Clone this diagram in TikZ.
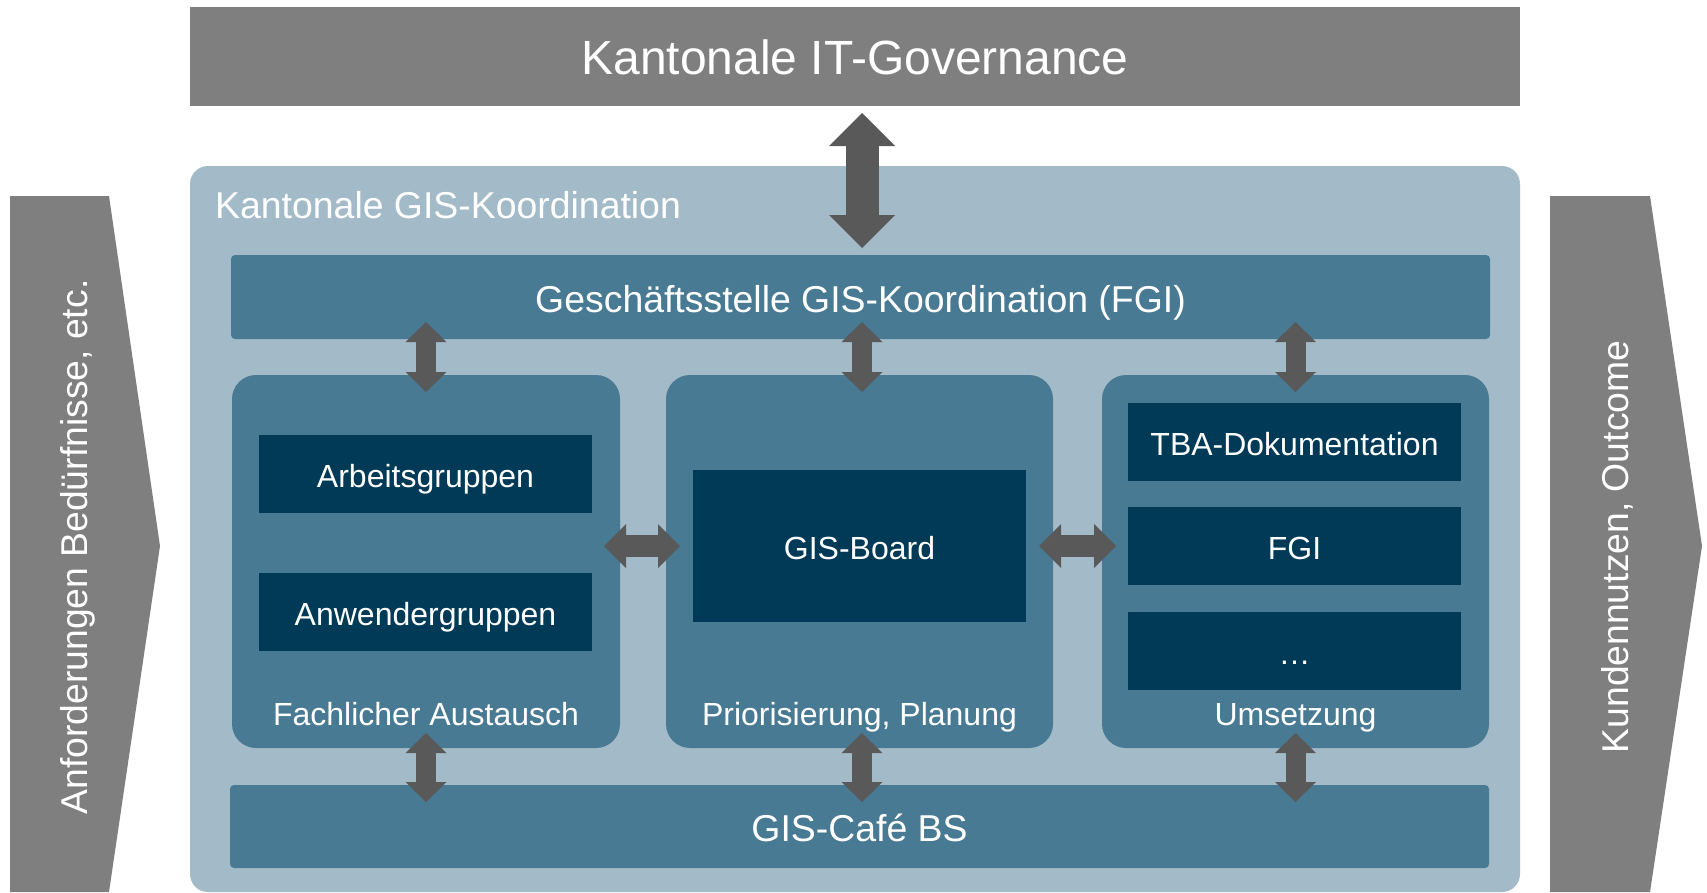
\documentclass[tikz,border=0pt]{standalone}
\usepackage{fontspec}
\setmainfont{Liberation Sans}
\usetikzlibrary{arrows.meta}
\definecolor{govgray}{HTML}{7F7F7F}
\definecolor{lightblue}{HTML}{A3BBC8}
\definecolor{midblue}{HTML}{487A93}
\definecolor{navy}{HTML}{003A57}
\definecolor{arrowgray}{HTML}{595959}
\tikzset{
  rect/.style 2 args={anchor=north west, inner sep=0pt, outer sep=0pt,
    minimum width=#1pt, minimum height=#2pt, text=white, align=center},
  f32/.style={font=\fontsize{32}{38}\selectfont, text height=26.9pt, text depth=0pt},
  f37/.style={font=\fontsize{37.4}{44}\selectfont, text height=30.8pt, text depth=0pt},
  f48/.style={font=\fontsize{48}{56}\selectfont, text height=36.4pt, text depth=0pt},
  govbox/.style={fill=govgray},
  outerbox/.style={fill=lightblue, rounded corners=18pt},
  barbox/.style={fill=midblue, rounded corners=4pt},
  colbox/.style={fill=midblue, rounded corners=24pt},
  innerbox/.style={fill=navy},
  collabel/.style={anchor=base, text=white, inner sep=0pt, font=\fontsize{32}{38}\selectfont},
  sidelabel/.style={anchor=base, rotate=90, text=white, inner sep=0pt, font=\fontsize{37.3}{44}\selectfont},
  bigarrow/.style={draw=arrowgray, line width=33pt,
    {Triangle[length=33pt,width=66pt,line width=0pt]}-{Triangle[length=33pt,width=66pt,line width=0pt]}},
  varrow/.style={draw=arrowgray, line width=20pt,
    {Triangle[length=20pt,width=41pt,line width=0pt]}-{Triangle[length=20pt,width=41pt,line width=0pt]}},
  harrow/.style={draw=arrowgray, line width=22pt,
    {Triangle[length=22pt,width=44pt,line width=0pt]}-{Triangle[length=22pt,width=44pt,line width=0pt]}},
}
\begin{document}
\begin{tikzpicture}[x=1pt, y=-1pt]
\useasboundingbox[fill=white] (0,0) rectangle (1707,892);

% side chevrons
\fill[govgray] (10,196) -- (109,196) -- (160,546) -- (109,892) -- (10,892) -- cycle;
\node[sidelabel] (lefttext) at (87,547) {Anforderungen Bedürfnisse, etc.};
\fill[govgray] (1550,196) -- (1650,196) -- (1702,546) -- (1650,892) -- (1550,892) -- cycle;
\node[sidelabel] (righttext) at (1628,547) {Kundennutzen, Outcome};

% top box
\node[rect={1330}{99}, govbox, f48] (gov) at (190,7) {Kantonale IT-Governance};

% container
\node[rect={1330}{726}, outerbox] (outer) at (190,166) {};
\node[anchor=base west, inner sep=0pt, text=white, font=\fontsize{37.4}{44}\selectfont] (title) at (215,218) {Kantonale GIS-Koordination};

% bars
\node[rect={1259}{84}, barbox, f37] (ges) at (231,255) {Geschäftsstelle GIS-Koordination (FGI)};
\node[rect={1259}{83}, barbox, f37] (cafe) at (230,785) {GIS-Café BS};

% columns
\node[rect={388}{373}, colbox] (lcol) at (232,375) {};
\node[rect={387}{373}, colbox] (mcol) at (666,375) {};
\node[rect={387}{373}, colbox] (rcol) at (1102,375) {};

% inner boxes
\node[rect={333}{78}, innerbox, f32] (arb) at (259,435) {Arbeitsgruppen};
\node[rect={333}{78}, innerbox, f32] (anw) at (259,573) {Anwendergruppen};
\node[rect={333}{152}, innerbox, f32] (gboard) at (693,470) {GIS-Board};
\node[rect={333}{78}, innerbox, f32] (tba) at (1128,403) {TBA-Dokumentation};
\node[rect={333}{78}, innerbox, f32] (fgi) at (1128,507) {FGI};
\node[rect={333}{78}, innerbox, f32] (etc) at (1128,612) {…};

% column labels
\node[collabel] (lfach) at (lcol.center |- 0,725) {Fachlicher Austausch};
\node[collabel] (lprio) at (mcol.center |- 0,725) {Priorisierung, Planung};
\node[collabel] (lums) at (rcol.center |- 0,725) {Umsetzung};

% arrows
\draw[bigarrow] ([yshift=-7pt,xshift=2.5pt]gov.south -| mcol.north) -- ([yshift=7pt,xshift=2.5pt]ges.north -| mcol.north);
\draw[varrow] ([yshift=17pt]ges.south -| lcol.north) -- ([yshift=-17pt]lcol.north);
\draw[varrow] ([yshift=17pt,xshift=2.5pt]ges.south -| mcol.north) -- ([yshift=-17pt,xshift=2.5pt]mcol.north);
\draw[varrow] ([yshift=17pt]ges.south -| rcol.north) -- ([yshift=-17pt]rcol.north);
\draw[harrow] ([xshift=-16pt]lcol.east |- gboard.center) -- ([xshift=14pt]mcol.west |- gboard.center);
\draw[harrow] ([xshift=-14pt]mcol.east |- gboard.center) -- ([xshift=14pt]rcol.west |- gboard.center);
\draw[varrow] ([yshift=15pt]lcol.south) -- ([yshift=-17pt]cafe.north -| lcol.south);
\draw[varrow] ([yshift=15pt,xshift=2.5pt]mcol.south) -- ([yshift=-17pt,xshift=2.5pt]cafe.north -| mcol.south);
\draw[varrow] ([yshift=15pt]rcol.south) -- ([yshift=-17pt]cafe.north -| rcol.south);
\end{tikzpicture}
\end{document}
